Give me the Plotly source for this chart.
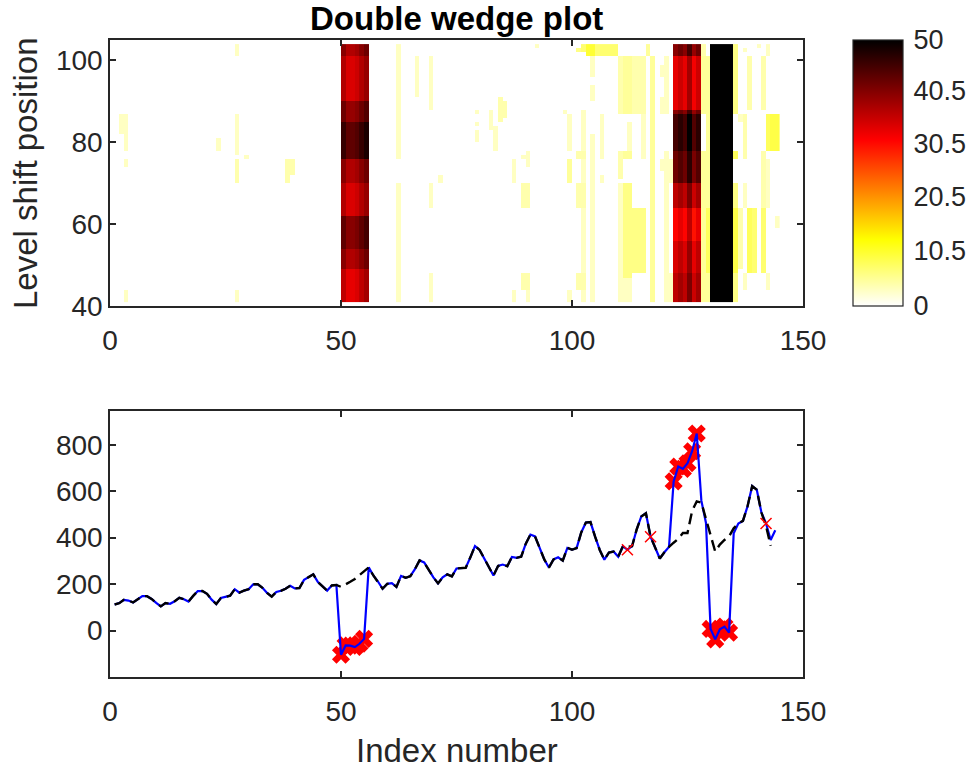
import plotly.graph_objects as go

W, H = 966, 769

# ---------------- data: bottom panel ----------------
index = list(range(1, 145))
observed = [
    112, 118, 132, 129, 121, 135, 148, 148, 136, 119, 104, 118,
    115, 126, 141, 135, 125, 149, 170, 170, 158, 133, 114, 140,
    145, 150, 178, 163, 172, 178, 199, 199, 184, 162, 146, 166,
    171, 180, 193, 181, 183, 218, 230, 242, 209, 191, 172, 194,
    196, -104, -64, -65, -71, -57, -36, 272, 237, 211, 180, 201,
    204, 188, 235, 227, 234, 264, 302, 293, 259, 229, 203, 229,
    242, 233, 267, 269, 270, 315, 364, 347, 312, 274, 237, 278,
    284, 277, 317, 313, 318, 374, 413, 405, 355, 306, 271, 306,
    315, 301, 356, 348, 355, 422, 465, 467, 404, 347, 305, 336,
    340, 318, 362, 348, 363, 435, 491, 505, 404, 359, 310, 337,
    360, 642, 706, 696, 720, 772, 848, 559, 463, 7, -38, 5,
    17, -9, 419, 461, 472, 535, 622, 606, 508, 461, 390, 432,
]
fitted = [
    112, 118, 132, 129, 121, 135, 148, 148, 136, 119, 104, 118,
    115, 126, 141, 135, 125, 149, 170, 170, 158, 133, 114, 140,
    145, 150, 178, 163, 172, 178, 199, 199, 184, 162, 146, 166,
    171, 180, 193, 181, 183, 218, 230, 242, 209, 191, 172, 194,
    196, 188, 198, 210, 222, 238, 258, 272, 237, 211, 180, 201,
    204, 188, 235, 227, 234, 264, 302, 293, 259, 229, 203, 229,
    242, 233, 267, 269, 270, 315, 364, 347, 312, 274, 237, 278,
    284, 277, 317, 313, 318, 374, 413, 405, 355, 306, 271, 306,
    315, 301, 356, 348, 355, 422, 465, 467, 404, 347, 305, 336,
    340, 318, 362, 360, 363, 435, 491, 505, 404, 359, 310, 337,
    360, 378, 395, 420, 420, 515, 556, 551, 478, 405, 340, 370,
    390, 405, 440, 461, 472, 535, 622, 606, 508, 450, 365,
]
shift_points = [50, 51, 52, 53, 54, 55, 122, 123, 124, 125, 126, 127,
                130, 131, 132, 133, 134]
outlier_points = [112, 117, 142]

# ---------------- data: top panel (heat map) ----------------
cols = list(range(1, 145))          # cell i spans [i, i+1]
rows = list(range(41, 104))         # cell j spans [j, j+1]
# (first col, last col, y low, y high, value)
pale_blocks = [
    (2, 2, 82, 87, 3), (3, 3, 78, 87, 3), (3, 3, 74, 76, 3), (3, 3, 41, 44, 3),
    (23, 23, 78, 81, 3), (27, 27, 101, 104, 3), (27, 27, 77, 87, 3),
    (27, 27, 70, 76, 4), (27, 27, 41, 44, 3), (29, 29, 76, 77, 3),
    (38, 38, 70, 76, 4), (39, 39, 72, 76, 4),
    (62, 62, 76, 104, 3), (62, 62, 41, 70, 3), (66, 66, 91, 101, 3),
    (69, 69, 88, 101, 3), (69, 69, 64, 70, 3), (69, 69, 41, 48, 3),
    (71, 71, 70, 72, 3), (79, 79, 87, 88, 3), (79, 79, 84, 85, 3),
    (79, 79, 80, 83, 3), (82, 82, 83, 88, 3), (83, 83, 78, 84, 3),
    (84, 84, 85, 91, 4), (85, 85, 86, 90, 4), (87, 87, 70, 76, 3),
    (87, 87, 41, 44, 3), (89, 89, 76, 77, 3), (90, 90, 74, 78, 3),
    (89, 90, 64, 70, 4), (89, 90, 44, 48, 4), (90, 90, 41, 44, 3),
    (92, 92, 103, 104, 3), (98, 98, 87, 88, 3), (99, 99, 78, 87, 3),
    (99, 99, 70, 76, 5), (99, 99, 41, 44, 3),
    (101, 102, 76, 78, 4), (101, 102, 64, 70, 4), (101, 102, 44, 48, 4),
    (102, 102, 41, 88, 3), (101, 101, 102, 103, 6), (102, 102, 102, 104, 7),
    (103, 104, 101, 104, 10), (105, 109, 101, 104, 7),
    (104, 104, 96, 101, 3), (104, 104, 90, 94, 3), (104, 104, 41, 82, 3),
    (106, 106, 76, 87, 3), (106, 106, 70, 72, 3),
    (110, 110, 87, 101, 4), (110, 110, 71, 78, 4), (110, 110, 41, 70, 3),
    (111, 112, 87, 101, 5), (111, 112, 76, 78, 5), (111, 112, 47, 70, 6),
    (111, 112, 41, 47, 3), (112, 112, 78, 85, 3),
    (113, 115, 87, 101, 4), (113, 115, 48, 64, 6), (115, 115, 76, 87, 3),
    (116, 116, 101, 104, 5), (117, 117, 41, 101, 5),
    (119, 119, 96, 99, 3), (119, 119, 87, 91, 3), (119, 119, 73, 76, 3),
    (120, 120, 87, 101, 3), (120, 120, 41, 78, 3),
    (121, 121, 41, 48, 3), (121, 121, 70, 76, 3),
    (128, 128, 101, 104, 4), (128, 128, 87, 101, 5), (128, 128, 41, 78, 5),
    (129, 129, 41, 101, 5), (129, 129, 48, 64, 8),
    (135, 135, 87, 104, 6), (135, 135, 76, 78, 8), (135, 135, 41, 70, 6),
    (135, 135, 48, 64, 9), (136, 136, 85, 87, 3), (136, 136, 49, 64, 4),
    (137, 137, 102, 103, 3), (137, 137, 76, 87, 4), (137, 137, 64, 70, 3),
    (137, 137, 44, 48, 3), (138, 138, 88, 101, 4), (138, 138, 48, 64, 8),
    (139, 139, 48, 64, 7), (140, 140, 103, 104, 3), (141, 141, 88, 101, 4),
    (141, 141, 64, 78, 4), (141, 141, 48, 64, 7), (142, 142, 101, 104, 3),
    (142, 142, 78, 87, 8), (142, 142, 64, 76, 3), (142, 142, 44, 48, 3),
    (143, 144, 78, 87, 9), (144, 144, 59, 62, 3),
]
wedgeA_cols = [50, 51, 52, 53, 54, 55]
wedgeA_col_offset = [3, 0, 0, 1, 3, 5]
wedgeA_edges = [41, 49, 54, 62, 70, 76, 85, 90, 101, 104]
wedgeA_values = [33, 37, 40, 34, 37, 43, 39, 34, 37]
wedgeB_cols = [122, 123, 124, 125, 126, 127]
wedgeB_col_offset = [0, 2, 0, 5, -1, 2]
wedgeB_edges = [41, 48, 56, 64, 70, 78, 87, 88, 101, 104]
wedgeB_values = [36, 34, 31, 36, 42, 45, 40, 33, 40]
black_cols = [130, 131, 132, 133, 134]
black_value = 50

cbar_ticks = [0, 10.5, 20.5, 30.5, 40.5, 50]

# ---------------- build matrix ----------------
z = [[0.0 for _ in cols] for _ in rows]


def put(c, j, v):
    if cols[0] <= c <= cols[-1] and rows[0] <= j <= rows[-1]:
        r, k = j - rows[0], c - cols[0]
        z[r][k] = max(z[r][k], v)


for c0, c1, ylo, yhi, v in pale_blocks:
    for c in range(c0, c1 + 1):
        for j in range(ylo, yhi):
            put(c, j, v)
for wcols, woff, wedges, wvals in [
        (wedgeA_cols, wedgeA_col_offset, wedgeA_edges, wedgeA_values),
        (wedgeB_cols, wedgeB_col_offset, wedgeB_edges, wedgeB_values)]:
    for c, off in zip(wcols, woff):
        for b in range(len(wvals)):
            for j in range(wedges[b], wedges[b + 1]):
                put(c, j, wvals[b] + off)
for c in black_cols:
    for j in rows:
        put(c, j, black_value)

xc = [c + 0.5 for c in cols]
yc = [j + 0.5 for j in rows]

# ---------------- layout geometry ----------------
def px_x(p):
    return p / W


def px_y(p):
    return 1 - p / H


AX_L, AX_R = 110, 803
TOP_T, TOP_B = 40, 306
BOT_T, BOT_B = 411, 677
CB_L, CB_R = 853, 903

FONT = "Liberation Sans, Arial, Helvetica, sans-serif"
TXT = "#262626"
TICK_SIZE = 28
LABEL_SIZE = 33

hot_r = [[0.0, "rgb(255,255,255)"], [0.25, "rgb(255,255,0)"],
         [0.625, "rgb(255,0,0)"], [1.0, "rgb(0,0,0)"]]

fig = go.Figure()
fig.add_trace(go.Heatmap(
    x=xc, y=yc, z=z, zmin=0, zmax=50, colorscale=hot_r,
    xaxis="x", yaxis="y", hoverinfo="skip",
    colorbar=dict(
        x=px_x(CB_L), xanchor="left", xref="paper",
        y=px_y(TOP_B), yanchor="bottom", yref="paper",
        len=(TOP_B - TOP_T) / H, lenmode="fraction",
        thickness=CB_R - CB_L, thicknessmode="pixels",
        outlinewidth=1.2, outlinecolor=TXT,
        tickvals=cbar_ticks, ticktext=[("%g" % t) for t in cbar_ticks],
        ticks="outside", ticklen=5, tickcolor="rgba(0,0,0,0)",
        tickfont=dict(family=FONT, size=TICK_SIZE - 1, color=TXT),
        ypad=0, xpad=0,
    ),
))

# bottom panel
fig.add_trace(go.Scatter(
    x=shift_points, y=[observed[i - 1] for i in shift_points],
    mode="markers", xaxis="x2", yaxis="y2",
    marker=dict(symbol="x", size=16, color="red", line=dict(width=0)),
    hoverinfo="skip", showlegend=False))
fig.add_trace(go.Scatter(
    x=index, y=observed, mode="lines", xaxis="x2", yaxis="y2",
    line=dict(color="rgb(0,0,255)", width=2.2), hoverinfo="skip",
    showlegend=False))
fig.add_trace(go.Scatter(
    x=index[:len(fitted)], y=fitted, mode="lines", xaxis="x2", yaxis="y2",
    line=dict(color="black", width=2.4, dash="11px,6px"), hoverinfo="skip",
    showlegend=False))
fig.add_trace(go.Scatter(
    x=outlier_points, y=[observed[i - 1] for i in outlier_points],
    mode="markers", xaxis="x2", yaxis="y2",
    marker=dict(symbol="x-thin-open", size=11, color="red",
                line=dict(width=1.5, color="red")),
    hoverinfo="skip", showlegend=False))

axis_common = dict(
    showline=True, linecolor=TXT, linewidth=1.5, mirror="ticks",
    ticks="inside", ticklen=6, tickwidth=1.5, tickcolor=TXT,
    showgrid=False, zeroline=False, automargin=False,
    tickfont=dict(family=FONT, size=TICK_SIZE, color=TXT),
)
xticks_extra = dict(ticklabelstandoff=9)

fig.update_layout(
    width=W, height=H,
    margin=dict(l=0, r=0, t=0, b=0, autoexpand=False),
    paper_bgcolor="white", plot_bgcolor="white", showlegend=False,
    xaxis=dict(domain=[px_x(AX_L), px_x(AX_R)], range=[0, 150],
               tickvals=[0, 50, 100, 150], anchor="y", **axis_common,
               **xticks_extra),
    yaxis=dict(domain=[px_y(TOP_B), px_y(TOP_T)], range=[40, 105],
               tickvals=[40, 60, 80, 100], anchor="x", **axis_common),
    xaxis2=dict(domain=[px_x(AX_L), px_x(AX_R)], range=[0, 150],
                tickvals=[0, 50, 100, 150], anchor="y2", **axis_common,
                **xticks_extra),
    yaxis2=dict(domain=[px_y(BOT_B), px_y(BOT_T)], range=[-200, 945],
                tickvals=[0, 200, 400, 600, 800], anchor="x2", **axis_common),
    annotations=[
        dict(text="<b>Double wedge plot</b>", x=px_x((AX_L + AX_R) / 2),
             y=px_y(18), xref="paper", yref="paper", showarrow=False,
             xanchor="center", yanchor="middle",
             font=dict(family=FONT, size=LABEL_SIZE, color="black")),
        dict(text="Level shift position", x=px_x(25), y=px_y((TOP_T + TOP_B) / 2),
             xref="paper", yref="paper", showarrow=False, textangle=-90,
             xanchor="center", yanchor="middle",
             font=dict(family=FONT, size=LABEL_SIZE, color=TXT)),
        dict(text="Index number", x=px_x((AX_L + AX_R) / 2), y=px_y(750),
             xref="paper", yref="paper", showarrow=False,
             xanchor="center", yanchor="middle",
             font=dict(family=FONT, size=LABEL_SIZE, color=TXT)),
    ],
)

fig.write_html("out.html")
